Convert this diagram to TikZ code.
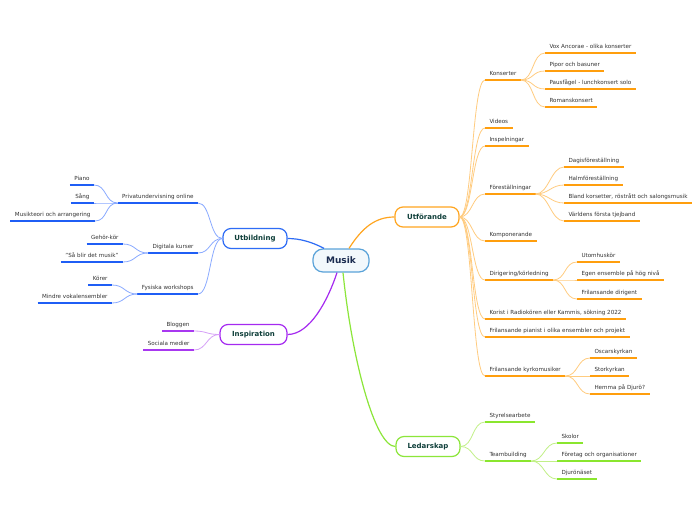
\documentclass[tikz,border=0pt]{standalone}
\usepackage{fontspec}
\setmainfont{DejaVu Sans}
\definecolor{oU}{HTML}{FF9E0D}
\definecolor{oC}{HTML}{FFCC80}
\definecolor{oB}{HTML}{FFA51F}
\definecolor{bU}{HTML}{1F5EF5}
\definecolor{bC}{HTML}{8AAAFF}
\definecolor{bB}{HTML}{2E6CF5}
\definecolor{pU}{HTML}{A838F0}
\definecolor{pC}{HTML}{D6A0F7}
\definecolor{pB}{HTML}{A52AF0}
\definecolor{gU}{HTML}{8AE62E}
\definecolor{gC}{HTML}{C2F088}
\definecolor{gB}{HTML}{8CE63A}
\definecolor{mB}{HTML}{5BA3D9}
\definecolor{mF}{HTML}{F2F8FC}
\definecolor{mT}{HTML}{1A2B50}
\definecolor{nT}{HTML}{0F3F3A}
\definecolor{lT}{HTML}{333333}
\newcommand{\leafR}[5]{\node[lbl,anchor=south west] (#1) at (#2,#3) {#4}; \draw[ul,#5] (#1.south west) -- (#1.south east);}
\newcommand{\leafL}[5]{\node[lbl,anchor=south east] (#1) at (#2,#3) {#4}; \draw[ul,#5] (#1.south west) -- (#1.south east);}
\newcommand{\conR}[3]{\draw[con,#3] (#1) .. controls +(13,0) and +(-13,0) .. (#2.south west);}
\newcommand{\conL}[3]{\draw[con,#3] (#1) .. controls +(-13,0) and +(13,0) .. (#2.south east);}
\begin{document}
\begin{tikzpicture}[x=1pt,y=-1pt,
  lbl/.style={font=\fontsize{5.6}{6}\selectfont, text=lT, inner xsep=4.3pt, inner ysep=2.4pt, text height=4.2pt, text depth=1.5pt},
  ul/.style={line width=1.4pt},
  con/.style={line width=0.8pt},
  mnode/.style={rounded corners=8pt, line width=1.2pt, fill=white, minimum height=20pt, text=nT, font=\bfseries\fontsize{7}{8}\selectfont, inner sep=2pt},
  mcon/.style={line width=1.2pt}]
\useasboundingbox (0,0) rectangle (696,520);
\fill[white] (0,0) rectangle (696,520);

% main nodes
\node[mnode, draw=mB, fill=mF, minimum width=56pt, minimum height=23pt, rounded corners=10pt, text=mT, font=\bfseries\fontsize{9}{10}\selectfont] (musik) at (341,260.5) {Musik};
\node[mnode, draw=oB, minimum width=64pt] (utf) at (427,217) {Utförande};
\node[mnode, draw=bB, minimum width=64pt] (utb) at (255,238.5) {Utbildning};
\node[mnode, draw=pB, minimum width=67pt] (insp) at (253.5,334.5) {Inspiration};
\node[mnode, draw=gB, minimum width=64pt] (led) at (428,446.5) {Ledarskap};

\draw[mcon,bB] ([xshift=-17pt]musik.north) .. controls (312,242) and (300,238.5) .. (utb.east);
\draw[mcon,oB] ([xshift=8pt]musik.north) .. controls (362,228) and (375,217) .. (utf.west);
\draw[mcon,pB] ([xshift=-4pt]musik.south) .. controls (328,300) and (310,334.5) .. (insp.east);
\draw[mcon,gB] ([xshift=2pt]musik.south) .. controls (352,360) and (375,446.5) .. (led.west);

% Utförande
\leafR{kons}{485}{80}{Konserter}{oU}
\leafR{vid}{485}{128}{Videos}{oU}
\leafR{insl}{485}{146}{Inspelningar}{oU}
\leafR{fore}{485}{194}{Föreställningar}{oU}
\leafR{komp}{485}{241}{Komponerande}{oU}
\leafR{diri}{485}{280}{Dirigering/körledning}{oU}
\leafR{kori}{485}{319}{Korist i Radiokören eller Kammis, sökning 2022}{oU}
\leafR{pian}{485}{337}{Frilansande pianist i olika ensembler och projekt}{oU}
\leafR{kyrk}{485}{376}{Frilansande kyrkomusiker}{oU}
\foreach \n in {kons,vid,insl,fore,komp,diri,kori,pian,kyrk} {\conR{utf.east}{\n}{oC}}

\leafR{vox}{545}{53}{Vox Ancorae - olika konserter}{oU}
\leafR{pipor}{545}{71}{Pipor och basuner}{oU}
\leafR{paus}{545}{89}{Pausfågel - lunchkonsert solo}{oU}
\leafR{roma}{545}{107}{Romanskonsert}{oU}
\foreach \n in {vox,pipor,paus,roma} {\conR{kons.south east}{\n}{oC}}

\leafR{dagis}{564}{167}{Dagisföreställning}{oU}
\leafR{halm}{564}{185}{Halmföreställning}{oU}
\leafR{bland}{564}{203}{Bland korsetter, röstrått och salongsmusik}{oU}
\leafR{varl}{564}{221}{Världens första tjejband}{oU}
\foreach \n in {dagis,halm,bland,varl} {\conR{fore.south east}{\n}{oC}}

\leafR{utom}{577}{262}{Utomhuskör}{oU}
\leafR{egen}{577}{280}{Egen ensemble på hög nivå}{oU}
\leafR{fdir}{577}{299}{Frilansande dirigent}{oU}
\foreach \n in {utom,egen,fdir} {\conR{diri.south east}{\n}{oC}}

\leafR{osc}{590}{358}{Oscarskyrkan}{oU}
\leafR{stor}{590}{376}{Storkyrkan}{oU}
\leafR{hemma}{590}{394}{Hemma på Djurö?}{oU}
\foreach \n in {osc,stor,hemma} {\conR{kyrk.south east}{\n}{oC}}

% Ledarskap
\leafR{styr}{485}{422}{Styrelsearbete}{gU}
\leafR{team}{485}{461}{Teambuilding}{gU}
\foreach \n in {styr,team} {\conR{led.east}{\n}{gC}}
\leafR{skol}{557}{443}{Skolor}{gU}
\leafR{fore2}{557}{461}{Företag och organisationer}{gU}
\leafR{djur}{557}{479}{Djurönäset}{gU}
\foreach \n in {skol,fore2,djur} {\conR{team.south east}{\n}{gC}}

% Utbildning
\leafL{priv}{198}{203}{Privatundervisning online}{bU}
\leafL{digi}{198}{253}{Digitala kurser}{bU}
\leafL{fysi}{198}{294}{Fysiska workshops}{bU}
\foreach \n in {priv,digi,fysi} {\conL{utb.west}{\n}{bC}}
\leafL{piano}{94}{185}{Piano}{bU}
\leafL{sang}{94}{203}{Sång}{bU}
\leafL{musi}{95}{221}{Musikteori och arrangering}{bU}
\foreach \n in {piano,sang,musi} {\conL{priv.south west}{\n}{bC}}
\leafL{geho}{123}{244}{Gehör-kör}{bU}
\leafL{sabl}{123}{262}{"Så blir det musik"}{bU}
\foreach \n in {geho,sabl} {\conL{digi.south west}{\n}{bC}}
\leafL{korer}{112}{285}{Körer}{bU}
\leafL{mind}{112}{303}{Mindre vokalensembler}{bU}
\foreach \n in {korer,mind} {\conL{fysi.south west}{\n}{bC}}

% Inspiration
\leafL{blog}{194}{331}{Bloggen}{pU}
\leafL{soci}{194}{350}{Sociala medier}{pU}
\foreach \n in {blog,soci} {\conL{insp.west}{\n}{pC}}
\end{tikzpicture}
\end{document}
